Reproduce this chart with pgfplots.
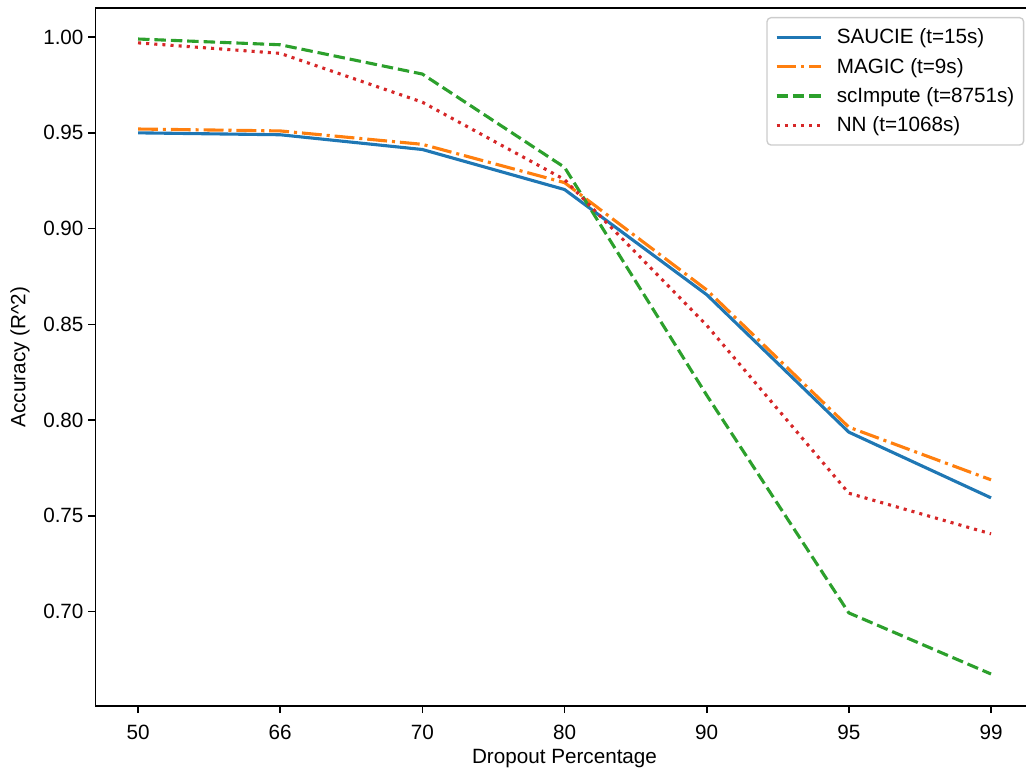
\documentclass[border=0pt]{standalone}
\usepackage{pgfplots}
\pgfplotsset{compat=1.18}
\usepackage{fontspec}
\setmainfont{Liberation Sans}
\definecolor{tabblue}{HTML}{1F77B4}
\definecolor{taborange}{HTML}{FF7F0E}
\definecolor{tabgreen}{HTML}{2CA02C}
\definecolor{tabred}{HTML}{D62728}
\newcommand{\fs}{\fontsize{15.5}{18.6}\selectfont}
\begin{document}
\begin{tikzpicture}
\begin{axis}[
  scale only axis,
  width=703.7pt, height=523.5pt,
  xmin=-0.3, xmax=6.3, ymin=0.6507, ymax=1.0152,
  axis line style={line width=1.24pt},
  tick align=outside, tick pos=left,
  major tick length=5.4pt,
  every tick/.style={line width=1.24pt, black},
  xtick={0,1,2,3,4,5,6},
  xticklabels={50,66,70,80,90,95,99},
  ytick={0.70,0.75,0.80,0.85,0.90,0.95,1.00},
  yticklabel style={/pgf/number format/.cd, fixed, fixed zerofill, precision=2, assume math mode=true},
  /pgf/number format/assume math mode=true,
  ticklabel style={font=\fs},
  xticklabel style={yshift=-5.25pt},
  label style={font=\fs},
  xlabel={Dropout Percentage},
  ylabel={Accuracy (R\textasciicircum 2)},
  xlabel style={at={(axis description cs:0.5,0)}, anchor=center, yshift=-39.75pt},
  ylabel style={at={(axis description cs:-0.0804,0.5)}, anchor=center},
  legend cell align=left,
  legend image code/.code={\draw[#1] (0pt,0pt) -- (33pt,0pt);},
  legend style={at={(0.99,0.9871)}, anchor=north east, draw=black!20, line width=1pt,
    rounded corners=3pt, font=\fs, inner xsep=6pt, inner ysep=7.5pt, row sep=7.2pt,
    column sep=10pt, nodes={inner sep=1pt}},
]
\addplot[tabblue, line width=2.33pt] coordinates {(0,0.950) (1,0.949) (2,0.9413) (3,0.9204) (4,0.8655) (5,0.7937) (6,0.7594)};
\addlegendentry{SAUCIE (t=15s)}
\addplot[taborange, line width=2.33pt, dash pattern=on 14.9pt off 3.7pt on 2.3pt off 3.7pt] coordinates {(0,0.952) (1,0.951) (2,0.944) (3,0.924) (4,0.868) (5,0.7963) (6,0.7688)};
\addlegendentry{MAGIC (t=9s)}
\addplot[tabgreen, line width=2.33pt, dash pattern=on 8.6pt off 3.7pt] coordinates {(0,0.999) (1,0.996) (2,0.9807) (3,0.932) (4,0.813) (5,0.6993) (6,0.6674)};
\addlegendentry{scImpute (t=8751s)}
\addplot[tabred, line width=2.33pt, dash pattern=on 2.3pt off 3.8pt] coordinates {(0,0.997) (1,0.9915) (2,0.966) (3,0.9256) (4,0.8495) (5,0.7618) (6,0.7406)};
\addlegendentry{NN (t=1068s)}
\end{axis}
\pgfresetboundingbox
\useasboundingbox (-71.55pt,-48pt) rectangle (697.95pt,529.5pt);
\end{tikzpicture}
\end{document}
